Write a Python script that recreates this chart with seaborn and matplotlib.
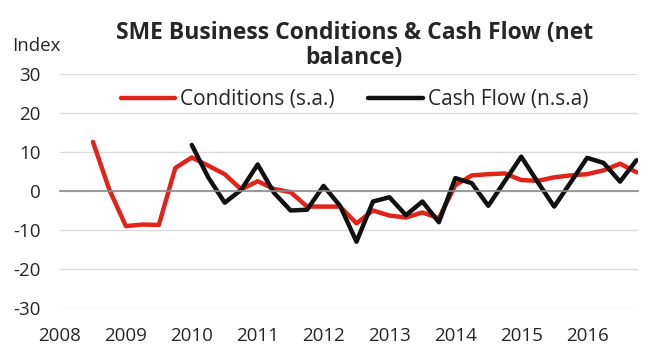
import numpy as np
import pandas as pd
import matplotlib
matplotlib.use('Agg')
import matplotlib.pyplot as plt
import matplotlib.transforms as mtransforms
import seaborn as sns

#Quarterly data
cond_quarters = ['2008Q3', '2008Q4', '2009Q1', '2009Q2', '2009Q3', '2009Q4', '2010Q1', '2010Q2',
                 '2010Q3', '2010Q4', '2011Q1', '2011Q2', '2011Q3', '2011Q4', '2012Q1', '2012Q2',
                 '2012Q3', '2012Q4', '2013Q1', '2013Q2', '2013Q3', '2013Q4', '2014Q1', '2014Q2',
                 '2014Q3', '2014Q4', '2015Q1', '2015Q2', '2015Q3', '2015Q4', '2016Q1', '2016Q2',
                 '2016Q3', '2016Q4']
conditions = [12.6, 0.3, -9.0, -8.6, -8.7, 5.9, 8.6, 6.5,
              4.3, 0.4, 2.5, 0.5, -0.3, -4.0, -4.0, -4.0,
              -8.3, -5.0, -6.3, -6.8, -5.5, -7.0, 1.5, 4.0,
              4.3, 4.5, 2.8, 2.6, 3.5, 4.0, 4.3, 5.3,
              7.0, 4.8]

cash_quarters = cond_quarters[6:]
cash_flow = [11.8, 3.5, -3.0, 0.3, 6.8, -0.5, -5.0, -4.8,
             1.3, -3.8, -13.0, -2.7, -1.6, -6.2, -2.7, -8.0,
             3.3, 2.0, -3.8, 2.5, 8.8, 2.3, -4.0, 2.2,
             8.5, 7.2, 2.4, 7.9]

years = ['2008', '2009', '2010', '2011', '2012', '2013', '2014', '2015', '2016']
y_ticks = [-30, -20, -10, 0, 10, 20, 30]


def to_year(q):
    p = pd.Period(q, freq='Q')
    return p.year + (p.quarter - 1) / 4


df_cond = pd.DataFrame({'x': [to_year(q) for q in cond_quarters], 'value': conditions})
df_cash = pd.DataFrame({'x': [to_year(q) for q in cash_quarters], 'value': cash_flow})

sns.set_style('white')
plt.rcParams['font.family'] = ['Open Sans', 'DejaVu Sans']

fig = plt.figure(figsize=(6.5, 3.59), dpi=100)
ax = fig.add_axes([0.0923, 0.142, 0.889, 0.652])

red = '#e2231a'
sns.lineplot(data=df_cond, x='x', y='value', color=red, linewidth=3.2, label='Conditions (s.a.)', ax=ax)
sns.lineplot(data=df_cash, x='x', y='value', color='#111111', linewidth=3.2, label='Cash Flow (n.s.a)', ax=ax)

ax.set_xlim(2008, 2016.77)
ax.set_ylim(-30, 30)
ax.set_yticks(y_ticks)
ax.set_yticklabels([str(v) for v in y_ticks], fontsize=13.5)
ax.tick_params(axis='y', length=0, pad=14)
ax.yaxis.grid(True, color='#dcdcdc', linewidth=1)
ax.set_axisbelow(True)
for s in ['top', 'right', 'left']:
    ax.spines[s].set_visible(False)

#Zero line acts as the category axis, year ticks pointing up
ax.spines['bottom'].set_position(('data', 0))
ax.spines['bottom'].set_color('#8c8c8c')
ax.spines['bottom'].set_linewidth(1.2)
ax.set_xticks([int(y) for y in years])
ax.tick_params(axis='x', direction='in', length=5, color='#8c8c8c', width=1, labelbottom=False)
ax.set_xlabel('')
ax.set_ylabel('')

trans = mtransforms.blended_transform_factory(ax.transData, ax.transAxes)
for y in years:
    ax.text(int(y), -0.12, y, transform=trans, ha='center', va='center', fontsize=13.5)

ax.legend(loc='center', bbox_to_anchor=(0.51, 0.89), ncol=2, frameon=False,
          fontsize=15, handlelength=2.6, handletextpad=0.25, columnspacing=1.6)

fig.text(0.545, 0.873, 'SME Business Conditions & Cash Flow (net\nbalance)', ha='center', va='center',
         fontsize=16.5, fontweight='bold', linespacing=1.08)
fig.text(12 / 650, 1 - 46 / 359, 'Index', ha='left', va='center', fontsize=13.5)

fig.savefig('out.png', dpi=100)
